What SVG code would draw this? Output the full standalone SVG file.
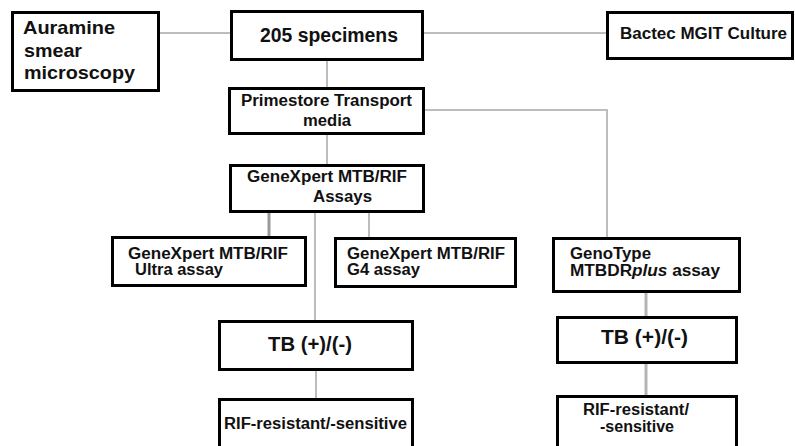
<svg xmlns="http://www.w3.org/2000/svg" width="795" height="446" viewBox="0 0 795 446">
<style>
.box{fill:#fff;stroke:#000;stroke-width:3}
.t{font-family:"Liberation Sans",Arial,sans-serif;font-weight:bold;fill:#111;font-size:16px}
.big{font-size:20px}
.mid{font-size:18.5px}
.ln{fill:none;stroke:#bdbdbd;stroke-width:2}
.ln2{fill:none;stroke:#9a9a9a;stroke-width:3}
.ln3{fill:none;stroke:#b5b5b5;stroke-width:3}
</style>
<rect width="795" height="446" fill="#fff"/>
<g id="connectors">
<path class="ln" d="M160 33H231"/>
<path class="ln" d="M424 33H607"/>
<path class="ln" d="M327 61V88"/>
<path class="ln" d="M424 110H607V238"/>
<path class="ln" d="M327 135V165"/>
<path class="ln2" d="M269 213V237"/>
<path class="ln" d="M369 213V238"/>
<path class="ln" d="M315 213V321"/>
<path class="ln" d="M316 370V399"/>
<path class="ln3" d="M646 292V317"/>
<path class="ln3" d="M646 363V396"/>
</g>
<g id="auramine">
<rect class="box" x="12.5" y="12.5" width="146" height="78"/>
<text class="t mid" x="23" y="34" textLength="92" lengthAdjust="spacingAndGlyphs">Auramine</text>
<text class="t mid" x="24" y="57" textLength="58" lengthAdjust="spacingAndGlyphs">smear</text>
<text class="t mid" x="24" y="79" textLength="111" lengthAdjust="spacingAndGlyphs">microscopy</text>
</g>
<g id="specimens">
<rect class="box" x="231.5" y="11.5" width="191" height="48"/>
<text class="t big" x="260" y="42" textLength="138" lengthAdjust="spacingAndGlyphs">205 specimens</text>
</g>
<g id="bactec">
<rect class="box" x="607.5" y="12.5" width="185" height="46"/>
<text class="t" x="620" y="39" textLength="167" lengthAdjust="spacingAndGlyphs">Bactec MGIT Culture</text>
</g>
<g id="primestore">
<rect class="box" x="229.5" y="88.5" width="194" height="45"/>
<text class="t" x="241" y="106" textLength="171" lengthAdjust="spacingAndGlyphs">Primestore Transport</text>
<text class="t" x="303" y="126" textLength="48" lengthAdjust="spacingAndGlyphs">media</text>
</g>
<g id="assays">
<rect class="box" x="230.5" y="165.5" width="193" height="46"/>
<text class="t" x="247" y="182" textLength="160" lengthAdjust="spacingAndGlyphs">GeneXpert MTB/RIF</text>
<text class="t" x="313" y="202" textLength="59" lengthAdjust="spacingAndGlyphs">Assays</text>
</g>
<g id="ultra">
<rect class="box" x="112.5" y="237.5" width="193" height="48"/>
<text class="t" x="128" y="259" textLength="160" lengthAdjust="spacingAndGlyphs">GeneXpert MTB/RIF</text>
<text class="t" x="135" y="275" textLength="88" lengthAdjust="spacingAndGlyphs">Ultra assay</text>
</g>
<g id="g4">
<rect class="box" x="335.5" y="238.5" width="180" height="48"/>
<text class="t" x="347" y="259" textLength="158" lengthAdjust="spacingAndGlyphs">GeneXpert MTB/RIF</text>
<text class="t" x="347" y="275" textLength="73" lengthAdjust="spacingAndGlyphs">G4 assay</text>
</g>
<g id="genotype">
<rect class="box" x="553.5" y="238.5" width="186" height="53"/>
<text class="t" x="570" y="259" textLength="81" lengthAdjust="spacingAndGlyphs">GenoType</text>
<text class="t" x="570" y="276" textLength="150" lengthAdjust="spacingAndGlyphs">MTBDR<tspan font-style="italic">plus</tspan> assay</text>
</g>
<g id="tb-left">
<rect class="box" x="219.5" y="321.5" width="193" height="48"/>
<text class="t big" x="268" y="351" textLength="84" lengthAdjust="spacingAndGlyphs">TB (+)/(-)</text>
</g>
<g id="rif-left">
<rect class="box" x="219.5" y="399.5" width="193" height="52"/>
<text class="t" x="224" y="429" textLength="183" lengthAdjust="spacingAndGlyphs">RIF-resistant/-sensitive</text>
</g>
<g id="tb-right">
<rect class="box" x="557.5" y="317.5" width="179" height="45"/>
<text class="t big" x="601" y="344" textLength="87" lengthAdjust="spacingAndGlyphs">TB (+)/(-)</text>
</g>
<g id="rif-right">
<rect class="box" x="557.5" y="396.5" width="179" height="55"/>
<text class="t" x="583" y="415" textLength="106" lengthAdjust="spacingAndGlyphs">RIF-resistant/</text>
<text class="t" x="600" y="432" textLength="74" lengthAdjust="spacingAndGlyphs">-sensitive</text>
</g>
</svg>
